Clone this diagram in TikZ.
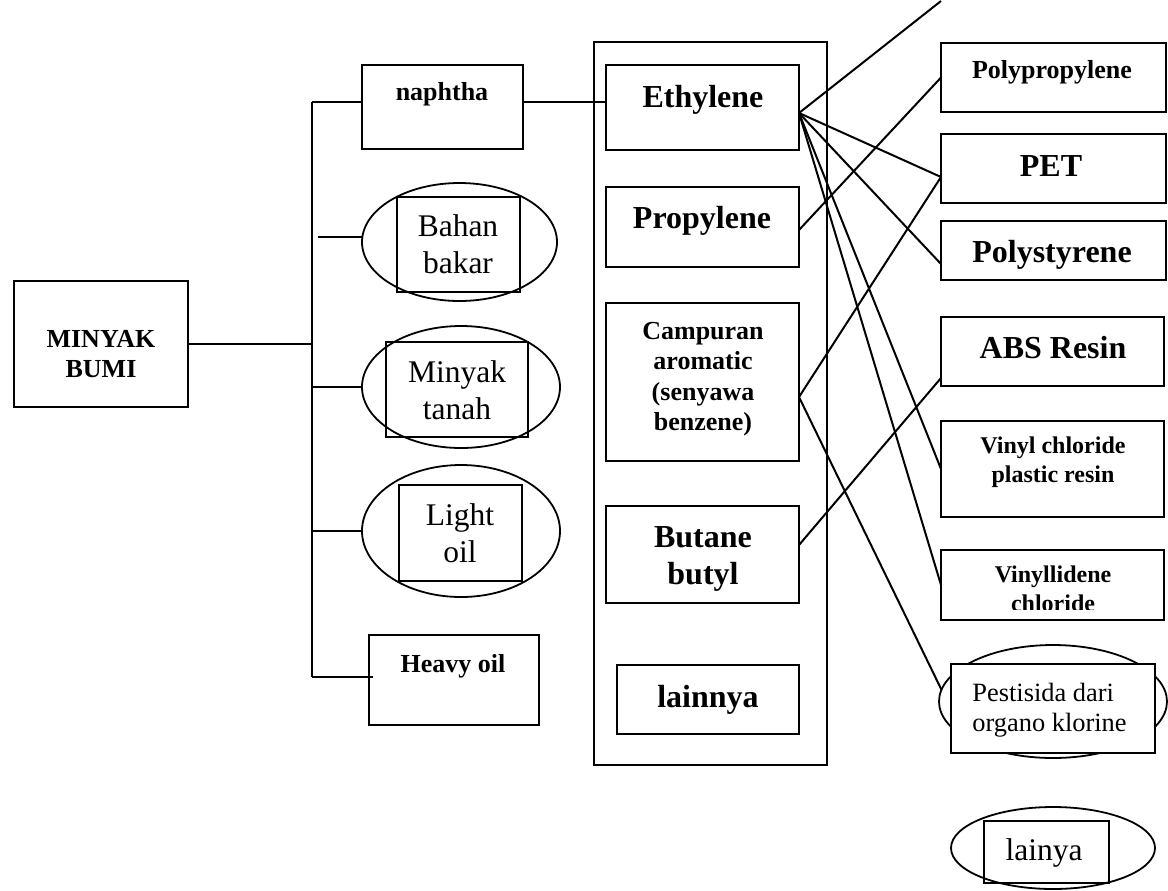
\documentclass[tikz,border=0pt]{standalone}
\usepackage{fontspec}
\setmainfont{Liberation Serif}
\usetikzlibrary{shapes.geometric}
\begin{document}
\begin{tikzpicture}[x=0.5pt,y=-0.5pt,
  box/.style={draw, line width=1pt, rectangle, inner sep=0pt, outer sep=0pt},
  oval/.style={draw, line width=0.9pt, ellipse, inner sep=0pt, outer sep=0pt},
  conn/.style={line width=1pt},
  bigb/.style={font=\fontsize{16}{18.5}\selectfont\bfseries, align=center, inner sep=0pt},
  midb/.style={font=\fontsize{13}{15.25}\selectfont\bfseries, align=center, inner sep=0pt},
  smlb/.style={font=\fontsize{12}{14.5}\selectfont\bfseries, align=center, inner sep=0pt},
  reg/.style={font=\fontsize{15.75}{18.5}\selectfont, align=center, inner sep=0pt},
  regs/.style={font=\fontsize{13.2}{15}\selectfont, align=left, inner sep=0pt},
]
\useasboundingbox (0,0) rectangle (1168,890);

% left: source
\node[box, minimum width=87pt, minimum height=63pt] (minyak) at (101,344) {};
\node[midb] (tminyak) at (101,354) {MINYAK\\BUMI};

% fractions
\node[box, minimum width=80.5pt, minimum height=42pt] (naphtha) at (442.5,107) {};
\node[midb, anchor=base] (tnaphtha) at (442,100) {naphtha};

\node[oval, minimum width=97.5pt, minimum height=59pt] (bahan) at (459.5,242) {};
\node[box, minimum width=61.5pt, minimum height=47.5pt] (bahanr) at (458.5,244.5) {};
\node[reg] (tbahan) at (458,244) {Bahan\\bakar};

\node[oval, minimum width=99pt, minimum height=61pt] (tanah) at (461,387) {};
\node[box, minimum width=71pt, minimum height=47.5pt] (tanahr) at (457,389.5) {};
\node[reg] (ttanah) at (457,390) {Minyak\\tanah};

\node[oval, minimum width=99pt, minimum height=66pt] (light) at (461,531) {};
\node[box, minimum width=61.5pt, minimum height=48pt] (lightr) at (460.5,533) {};
\node[reg] (tlight) at (460,533) {Light\\oil};

\node[box, minimum width=85pt, minimum height=45pt] (heavy) at (454,680) {};
\node[midb, anchor=base] (theavy) at (453,672) {Heavy oil};

% middle column
\node[box, minimum width=116.5pt, minimum height=361.5pt] (midcol) at (710.5,403.5) {};

\node[box, minimum width=96.5pt, minimum height=42.5pt] (ethylene) at (702.5,107.5) {};
\node[bigb, anchor=base] (tethylene) at (703,107) {Ethylene};

\node[box, minimum width=96.5pt, minimum height=40pt] (propylene) at (702.5,227) {};
\node[bigb, anchor=base] (tpropylene) at (702,228) {Propylene};

\node[box, minimum width=96.5pt, minimum height=79pt] (campuran) at (702.5,382) {};
\node[midb] (tcampuran) at (703,379) {Campuran\\aromatic\\(senyawa\\benzene)};

\node[box, minimum width=96.5pt, minimum height=48.5pt] (butane) at (702.5,554.5) {};
\node[bigb] (tbutane) at (703,559) {Butane\\butyl};

\node[box, minimum width=91pt, minimum height=34.5pt] (lainnya) at (708,699.5) {};
\node[bigb, anchor=base] (tlainnya) at (708,707) {lainnya};

% right column
\node[box, minimum width=112.5pt, minimum height=34.5pt] (polyp) at (1053.5,77.5) {};
\node[midb, anchor=base] (tpolyp) at (1052,78) {Polypropylene};

\node[box, minimum width=112.5pt, minimum height=34.5pt] (pet) at (1053.5,168.5) {};
\node[bigb, anchor=base] (tpet) at (1051,176) {PET};

\node[box, minimum width=112.5pt, minimum height=29.5pt] (polys) at (1053.5,250.5) {};
\node[bigb, anchor=base] (tpolys) at (1052,262) {Polystyrene};

\node[box, minimum width=111.5pt, minimum height=34.5pt] (abs) at (1052.5,351.5) {};
\node[bigb, anchor=base] (tabs) at (1053,358) {ABS Resin};

\node[box, minimum width=111.5pt, minimum height=48pt] (vinyl) at (1052.5,469) {};
\node[smlb] (tvinyl) at (1053,462) {Vinyl chloride\\plastic resin};

\node[box, minimum width=111.5pt, minimum height=35pt] (vinyli) at (1052.5,585) {};
\begin{scope}
  \clip (941,550) rectangle (1164,609);
  \node[smlb] (tvinyli) at (1053,588.5) {Vinyllidene\\chloride};
\end{scope}

\node[oval, minimum width=114pt, minimum height=56.5pt] (pest) at (1053,701.5) {};
\node[box, fill=white, minimum width=102pt, minimum height=44.5pt] (pestr) at (1053,708.5) {};
\node[regs, anchor=west] (tpest) at (972,710) {Pestisida dari\\organo klorine};

\node[oval, minimum width=102pt, minimum height=41pt] (lainya) at (1053,848) {};
\node[box, minimum width=62.5pt, minimum height=31pt] (lainyar) at (1046.5,852) {};
\node[reg, anchor=base] (tlainya) at (1044,860) {lainya};

% connectors: left tree
\coordinate (b1) at (312,102);
\coordinate (b2) at (312,677);
\coordinate (b3) at (318,237);
\draw[conn] (minyak.east) -- (minyak.east -| b1);
\draw[conn] (b1) -- (b2);
\draw[conn] (b1) -- (naphtha.west |- b1);
\draw[conn] (b3) -- (bahan.west |- b3);
\draw[conn] (tanah.west -| b1) -- (tanah.west);
\draw[conn] (light.west -| b1) -- (light.west);
\draw[conn] (b2) -- ([xshift=2pt]heavy.west |- b2);
\draw[conn] (naphtha.east |- b1) -- (ethylene.west |- b1);

% connectors: products
\coordinate (eo) at ([yshift=-2.75pt]ethylene.east);
\coordinate (co) at ([yshift=-7.5pt]campuran.east);
\coordinate (topend) at (941,1);
\draw[conn] (eo) -- (topend);
\draw[conn] (eo) -- ([yshift=-4.25pt]pet.west);
\draw[conn] (eo) -- ([yshift=-6.75pt]polys.west);
\draw[conn] (eo) -- (vinyl.west);
\draw[conn] (eo) -- (vinyli.west);
\draw[conn] ([yshift=-1.5pt]propylene.east) -- (polyp.west);
\draw[conn] (co) -- ([yshift=-4.25pt]pet.west);
\draw[conn] (co) -- (pest.174);
\draw[conn] ([yshift=4.75pt]butane.east) -- ([yshift=4pt]abs.south west);
\end{tikzpicture}
\end{document}
